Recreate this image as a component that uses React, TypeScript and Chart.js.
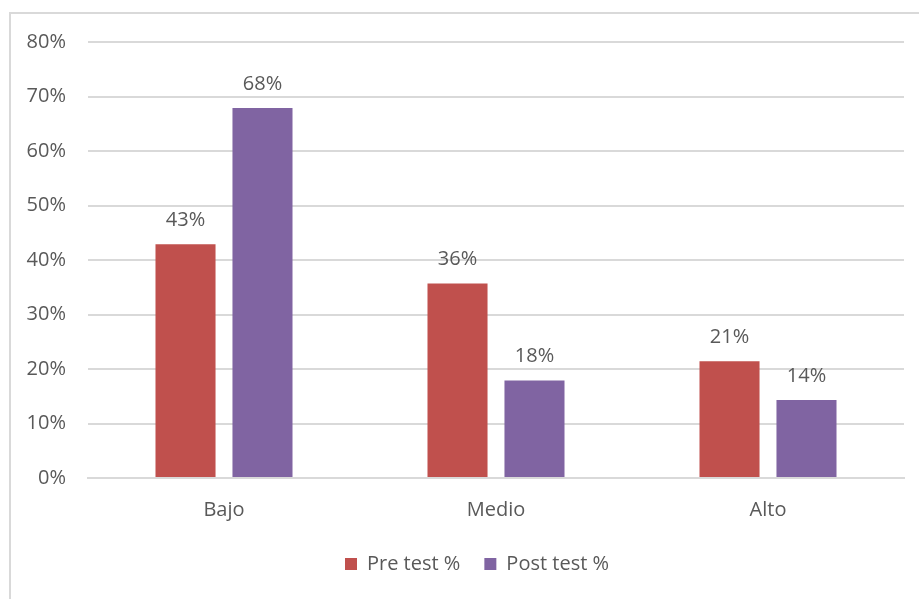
import React, { useEffect, useRef } from "react";
import { Chart, registerables } from "chart.js";

Chart.register(...registerables);

const categories = ["Bajo", "Medio", "Alto"];
const preTest = [42.9, 35.7, 21.4];
const postTest = [67.9, 17.9, 14.3];
const seriesNames = ["Pre test %", "Post test %"];
const yTicks = [0, 10, 20, 30, 40, 50, 60, 70, 80];

const FONT = "'Open Sans', 'Liberation Sans', sans-serif";
const TEXT = "#595959";
const FS = 20;

const dataLabelPlugin = {
  id: "dataLabels",
  afterDatasetsDraw(chart: any) {
    const ctx = chart.ctx;
    ctx.save();
    ctx.font = `${FS}px ${FONT}`;
    ctx.fillStyle = TEXT;
    ctx.textAlign = "center";
    ctx.textBaseline = "alphabetic";
    chart.data.datasets.forEach((ds: any, i: number) => {
      const meta = chart.getDatasetMeta(i);
      meta.data.forEach((bar: any, j: number) => {
        const v = ds.data[j];
        ctx.fillText(`${Math.round(v)}%`, bar.x, bar.y - 18);
      });
    });
    ctx.restore();
  },
};

// Centre the legend on the chart frame rather than on the plot padding
const legendShiftPlugin = {
  id: "legendShift",
  afterLayout(chart: any) {
    const lg = chart.legend;
    if (lg) {
      lg.left += 20;
      lg.right += 20;
    }
  },
};

export default function App() {
  const ref = useRef<HTMLCanvasElement | null>(null);
  useEffect(() => {
    if (!ref.current) return;
    const chart = new Chart(ref.current, {
      type: "bar",
      data: {
        labels: categories,
        datasets: [
          { label: seriesNames[0], data: preTest, backgroundColor: "#C0504D" },
          { label: seriesNames[1], data: postTest, backgroundColor: "#8064A2" },
        ],
      },
      options: {
        animation: false,
        responsive: false,
        maintainAspectRatio: false,
        layout: { padding: { left: 10, right: 15, top: 42, bottom: 15 } },
        datasets: { bar: { categoryPercentage: 0.566, barPercentage: 0.78 } } as any,
        plugins: {
          legend: {
            position: "bottom",
            labels: {
              color: TEXT,
              font: { family: FONT, size: FS },
              boxWidth: 12,
              boxHeight: 12,
              padding: 24,
            },
          },
          tooltip: { enabled: false },
        },
        scales: {
          x: {
            grid: { display: false, drawTicks: false },
            border: { display: true, color: "#d9d9d9", width: 2 },
            ticks: { color: TEXT, font: { family: FONT, size: FS }, padding: 20 },
            afterFit: (s: any) => {
              s.height = 52;
            },
          },
          y: {
            min: 0,
            max: 80,
            afterBuildTicks: (s: any) => {
              s.ticks = yTicks.map((v) => ({ value: v }));
            },
            grid: { color: "#d9d9d9", lineWidth: 2, drawTicks: false },
            border: { display: false },
            ticks: {
              color: TEXT,
              font: { family: FONT, size: FS },
              padding: 22,
              callback: (v: any) => `${v}%`,
            },
            afterFit: (s: any) => {
              s.width = 78;
            },
          },
        },
      },
      plugins: [dataLabelPlugin, legendShiftPlugin],
    });
    return () => chart.destroy();
  }, []);
  return (
    <div style={{ position: "fixed", left: 0, top: 0, width: 919, height: 599, background: "#fff", overflow: "hidden" }}>
      <div
        style={{
          position: "absolute",
          left: 9,
          top: 12,
          width: 1000,
          height: 1000,
          borderLeft: "2px solid #d9d9d9",
          borderTop: "2px solid #d9d9d9",
        }}
      />
      <canvas ref={ref} width={919} height={599} style={{ position: "absolute", left: 0, top: 0 }} />
    </div>
  );
}
